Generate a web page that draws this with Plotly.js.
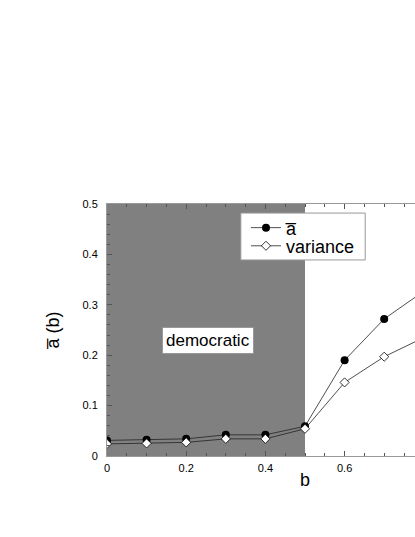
<!DOCTYPE html>
<html>
<head>
<meta charset="utf-8">
<script src="https://cdn.plot.ly/plotly-3.0.1.min.js"></script>
<style>
  html, body { margin: 0; padding: 0; overflow: hidden; background: #fff; }
  #chart { width: 520px; height: 537px; }
</style>
</head>
<body>
<div id="chart"></div>
<script>
// values
const bValues = [0, 0.1, 0.2, 0.3, 0.4, 0.5, 0.6, 0.7, 0.8];
const meanA = [0.031, 0.032, 0.034, 0.042, 0.042, 0.059, 0.190, 0.272, 0.327];
const varianceA = [0.024, 0.025, 0.027, 0.034, 0.034, 0.054, 0.146, 0.197, 0.235];
const seriesNames = ['a\u0305', 'variance'];
const regionLabel = 'democratic';
const regionEnd = 0.5;

const baseFont = 'Liberation Sans, Arial, Helvetica, sans-serif';

const traces = [
    {
        x: bValues,
        y: meanA,
        name: seriesNames[0],
        legend: 'legend',
        type: 'scatter',
        mode: 'lines+markers',
        line: { color: '#222', width: 0.8 },
        marker: { symbol: 'circle', size: 8, color: '#000' }
    },
    {
        x: bValues,
        y: varianceA,
        name: seriesNames[1],
        legend: 'legend2',
        type: 'scatter',
        mode: 'lines+markers',
        line: { color: '#222', width: 0.8 },
        marker: { symbol: 'diamond', size: 7, color: '#fff', line: { color: '#000', width: 0.8 } }
    }
];

const axisCommon = {
    showgrid: false,
    zeroline: false,
    showline: true,
    linecolor: '#999',
    linewidth: 1,
    mirror: 'ticks',
    ticks: 'inside',
    ticklen: 5,
    tickcolor: '#555',
    tickfont: { family: baseFont, size: 11, color: '#000' }
};

// two single-entry legends so the rows sit as tight as in the original
const legendCommon = {
    xanchor: 'left', yanchor: 'middle',
    bgcolor: 'rgba(0,0,0,0)',
    borderwidth: 0,
    font: { family: baseFont, size: 18, color: '#000' }
};

const layout = {
    width: 520,
    height: 537,
    margin: { l: 107, r: 17, t: 204, b: 81 },
    paper_bgcolor: '#fff',
    plot_bgcolor: '#fff',
    font: { family: baseFont, color: '#000' },
    xaxis: Object.assign({}, axisCommon, {
        range: [0, 1],
        dtick: 0.2,
        ticklabelstandoff: 2,
        minor: { dtick: 0.05, ticks: 'inside', ticklen: 3, tickcolor: '#555' },
        title: { text: 'b', font: { family: baseFont, size: 18 }, standoff: 0 }
    }),
    yaxis: Object.assign({}, axisCommon, {
        range: [0, 0.5],
        dtick: 0.1,
        ticklabelstandoff: 6,
        minor: { dtick: 0.02, ticks: 'inside', ticklen: 3, tickcolor: '#555' },
        title: { text: 'a\u0305 (b)', font: { family: baseFont, size: 18 }, standoff: 18 }
    }),
    shapes: [
        {
            type: 'rect',
            xref: 'x', yref: 'y',
            x0: 0, x1: regionEnd, y0: 0, y1: 0.5,
            fillcolor: '#808080',
            line: { width: 0 },
            layer: 'below'
        },
        {
            // legend box
            type: 'rect',
            xref: 'paper', yref: 'paper',
            x0: 0.338, x1: 0.652, y0: 0.778, y1: 0.964,
            fillcolor: '#fff',
            line: { color: '#999', width: 1 },
            layer: 'above'
        }
    ],
    annotations: [{
        xref: 'x', yref: 'y',
        x: 0.255, y: 0.23,
        text: regionLabel,
        showarrow: false,
        font: { family: baseFont, size: 17, color: '#000' },
        bgcolor: '#fff',
        bordercolor: '#999',
        borderwidth: 1,
        borderpad: 3
    }],
    showlegend: true,
    legend: Object.assign({}, legendCommon, { x: 0.351, y: 0.905 }),
    legend2: Object.assign({}, legendCommon, { x: 0.351, y: 0.833 })
};

Plotly.newPlot('chart', traces, layout, { displayModeBar: false, staticPlot: true });
</script>
</body>
</html>
